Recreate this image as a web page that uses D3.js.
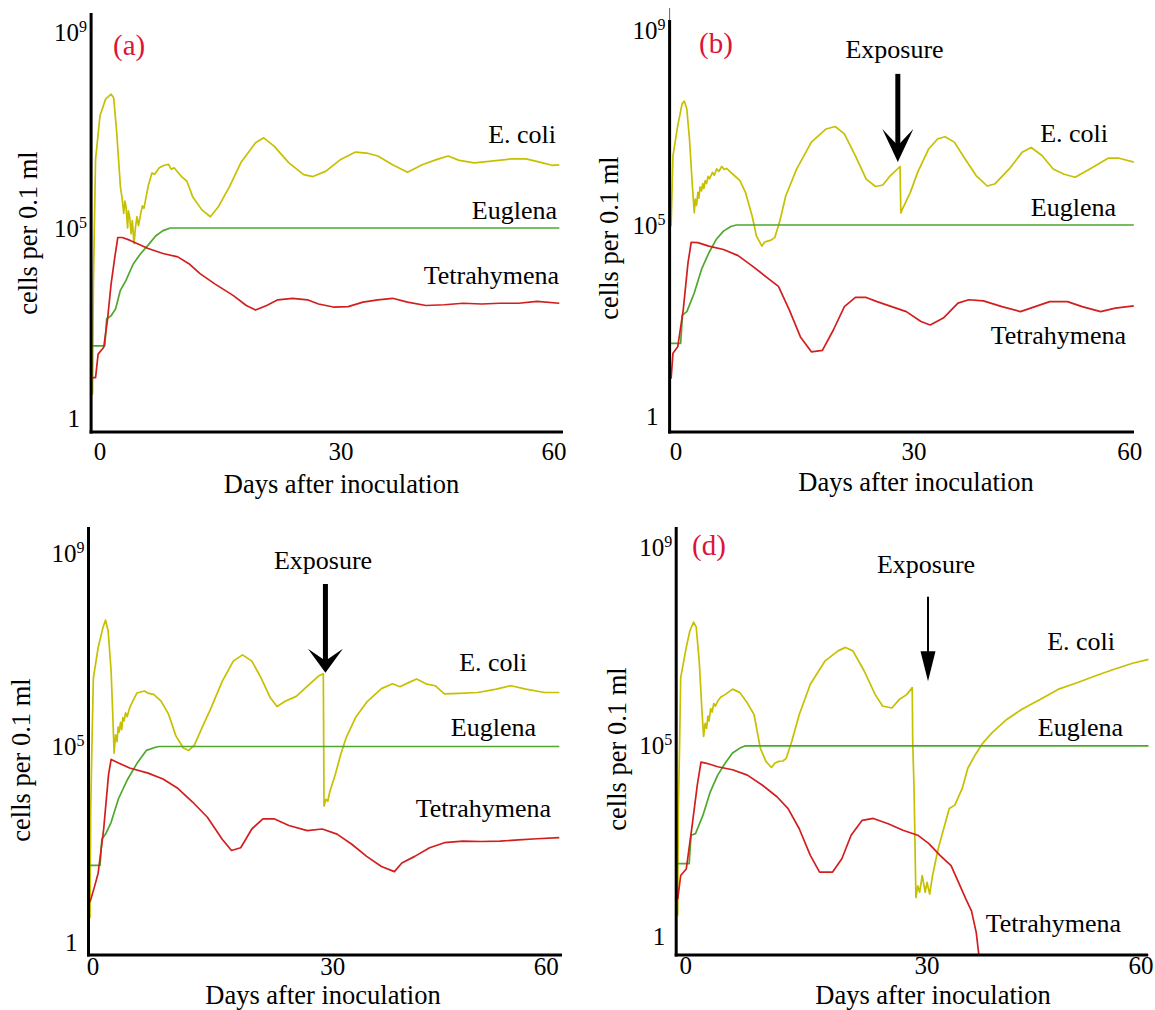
<!DOCTYPE html>
<html><head><meta charset="utf-8">
<script src="https://cdn.jsdelivr.net/npm/d3@7"></script>
<style>body{margin:0;background:#fff}svg{display:block}</style>
</head><body>
<svg id="chart" width="1155" height="1010"></svg>
<script>
// ---- DATA: [day, log10(cells per 0.1 ml)] ----
const xTicks = [0, 30, 60];
const yTicks = [0, 5, 9];               // log10 values -> "1", "10^5", "10^9"
const speciesNames = ["E. coli", "Euglena", "Tetrahymena"];
const panelLetters = ["(a)", "(b)", "", "(d)"];

const ecoliA = [[0,0.62],[0.1,3.53],[0.38,6.4],[0.95,7.29],[1.67,7.63],[2.38,7.73],[2.71,7.66],[3.1,6.95],[3.57,5.85],[3.8,5.6],[4.0,5.3],[4.15,5.55],[4.29,5.44],[4.5,5.0],[4.6,5.35],[4.76,5.23],[4.95,4.85],[5.1,5.15],[5.33,4.59],[5.5,5.0],[5.71,5.23],[5.9,5.05],[6.19,5.3],[6.4,5.45],[6.6,5.4],[7.14,5.85],[7.62,6.12],[8.0,6.1],[8.57,6.23],[9.2,6.28],[9.76,6.3],[10.1,6.2],[10.48,6.23],[11.43,6.05],[12.14,5.95],[12.86,5.64],[14.05,5.37],[15.14,5.23],[16.19,5.44],[17.62,5.85],[19.05,6.33],[20.95,6.74],[22.0,6.84],[23.33,6.67],[25.24,6.33],[27.14,6.09],[28.33,6.05],[30.0,6.16],[31.9,6.4],[33.8,6.55],[35.24,6.53],[36.67,6.47],[38.57,6.29],[40.48,6.14],[42.38,6.29],[44.29,6.4],[45.71,6.47],[47.14,6.38],[49.05,6.33],[50.95,6.36],[53.81,6.41],[55.71,6.41],[57.62,6.34],[59.05,6.28],[60,6.29]];
const euglenaA = [[0,1.9],[1.57,1.9],[1.81,2.61],[2.38,2.69],[2.95,2.87],[3.57,3.36],[4.29,3.62],[5.24,4.06],[6.19,4.33],[7.14,4.55],[8.1,4.79],[9.05,4.93],[10.0,5.0],[60,5.0]];
const tetraA = [[0,1.06],[0.38,1.06],[0.71,1.68],[1.43,1.86],[1.9,2.56],[2.38,3.53],[2.86,4.24],[3.24,4.75],[3.81,4.75],[4.76,4.68],[7.14,4.46],[9.05,4.33],[10.95,4.24],[12.38,4.06],[13.81,3.8],[15.71,3.53],[18.1,3.22],[19.76,2.96],[20.95,2.84],[22.38,2.96],[23.81,3.11],[25.71,3.15],[27.62,3.11],[29.05,3.0],[30.95,2.92],[32.86,2.93],[34.76,3.05],[36.67,3.11],[38.57,3.15],[40.48,3.05],[42.86,2.96],[45.24,2.98],[47.62,3.02],[50,3.0],[52.38,3.02],[54.76,3.02],[57.14,3.07],[60,3.02]];

const ecoliB = [[0,4.97],[0.24,6.42],[0.86,7.04],[1.43,7.49],[1.71,7.54],[2.04,7.38],[2.38,6.77],[2.76,5.8],[3.0,5.25],[3.14,5.53],[3.3,5.4],[3.47,5.67],[3.6,5.55],[3.75,5.78],[3.94,5.7],[4.1,5.85],[4.25,5.75],[4.42,5.91],[4.6,5.85],[4.8,6.0],[5.0,5.95],[5.37,6.08],[5.6,6.02],[5.9,6.15],[6.2,6.1],[6.56,6.2],[6.9,6.14],[7.2,6.16],[7.74,6.08],[8.3,6.0],[8.93,5.91],[9.64,5.67],[10.5,5.19],[11.07,4.71],[11.78,4.45],[12.1,4.55],[12.49,4.58],[12.9,4.6],[13.44,4.67],[14.16,5.12],[14.87,5.6],[16.29,6.15],[18.19,6.7],[20.1,6.97],[21.28,7.02],[22.47,6.87],[23.9,6.42],[25.3,5.94],[26.5,5.79],[27.46,5.82],[28.41,6.01],[29.69,6.2],[29.79,5.25],[29.98,5.32],[31.02,5.67],[31.97,6.08],[33.4,6.56],[34.58,6.77],[35.53,6.81],[36.72,6.7],[38.15,6.35],[39.57,6.01],[41.0,5.8],[41.95,5.84],[43.85,6.15],[45.51,6.49],[46.7,6.59],[48.12,6.42],[49.55,6.15],[50.97,6.04],[52.4,5.98],[54.3,6.15],[56.67,6.37],[58.1,6.37],[60,6.29]];
const euglenaB = [[0,1.91],[1.24,1.91],[1.47,2.65],[2.04,2.74],[2.99,3.22],[3.94,3.84],[4.89,4.27],[5.84,4.62],[6.79,4.84],[7.74,4.96],[8.46,5.0],[60,5.0]];
const tetraB = [[0,0.99],[0.24,1.65],[0.86,1.82],[1.57,2.78],[2.19,4.01],[2.61,4.55],[3.47,4.54],[4.89,4.45],[6.79,4.36],[8.69,4.2],[10.59,3.92],[12.49,3.62],[13.92,3.4],[15.34,2.78],[16.77,2.08],[18.19,1.69],[19.62,1.73],[21.04,2.26],[22.47,2.87],[23.9,3.11],[25.3,3.11],[26.7,3.0],[28.6,2.87],[30.5,2.74],[32.4,2.48],[33.6,2.39],[35.3,2.57],[37.2,2.96],[38.6,3.05],[40.5,3.02],[42.9,2.87],[45.3,2.74],[47.2,2.87],[49.1,3.0],[51.4,3.0],[53.3,2.87],[55.7,2.74],[57.6,2.83],[60,2.89]];

const ecoliC = [[0,0.61],[0.09,3.41],[0.24,4.96],[0.43,6.42],[1.04,7.05],[1.66,7.47],[1.99,7.62],[2.32,7.4],[2.7,6.56],[2.94,5.53],[3.08,4.83],[3.27,5.24],[3.45,5.1],[3.6,5.4],[3.74,5.3],[3.9,5.5],[4.05,5.35],[4.2,5.6],[4.36,5.53],[4.55,5.7],[4.75,5.62],[5.07,5.8],[5.5,5.95],[6.01,6.11],[6.96,6.15],[7.5,6.1],[8.14,6.08],[9.09,5.94],[10.04,5.67],[10.98,5.22],[11.93,4.96],[12.64,4.9],[13.35,5.03],[14.3,5.38],[15.48,5.8],[16.9,6.35],[18.32,6.77],[19.5,6.9],[20.69,6.77],[21.88,6.42],[23.06,6.01],[23.91,5.83],[24.95,5.94],[26.37,6.04],[27.79,6.25],[29.21,6.46],[29.83,6.51],[29.92,3.48],[30.16,3.65],[30.4,3.6],[30.64,3.83],[31.35,4.28],[32.06,4.8],[32.77,5.19],[33.95,5.6],[35.37,5.92],[37.26,6.2],[38.68,6.3],[39.63,6.24],[40.81,6.33],[41.76,6.4],[42.95,6.3],[44.13,6.26],[45.31,6.09],[47.2,6.1],[49.57,6.12],[51.94,6.19],[53.83,6.26],[55.73,6.19],[58.1,6.12],[60,6.12]];
const euglenaC = [[0,1.96],[1.28,1.96],[1.52,2.63],[1.99,2.76],[2.7,3.06],[3.65,3.67],[4.83,4.17],[6.01,4.57],[7.2,4.9],[8.38,4.98],[8.85,5.0],[60,5.0]];
const tetraC = [[0,1.02],[0.57,1.41],[1.04,1.76],[1.75,2.89],[2.37,4.28],[2.7,4.67],[3.65,4.58],[5.07,4.45],[7.43,4.32],[9.33,4.17],[11.22,3.93],[13.12,3.58],[15.01,3.19],[16.9,2.63],[18.09,2.34],[19.27,2.41],[20.69,2.89],[22.11,3.15],[23.53,3.15],[25.42,2.98],[27.79,2.85],[29.69,2.89],[31.58,2.76],[33.47,2.5],[35.37,2.19],[37.26,1.93],[38.92,1.8],[39.87,2.02],[41.52,2.19],[43.42,2.41],[45.31,2.54],[47.68,2.58],[50.05,2.57],[52.41,2.58],[54.78,2.61],[57.15,2.64],[60,2.67]];

const ecoliD = [[0,0.53],[0.09,3.44],[0.24,5.02],[0.38,6.37],[1.09,6.98],[1.56,7.32],[2.03,7.49],[2.36,7.39],[2.74,6.71],[3.07,5.76],[3.3,5.19],[3.5,5.45],[3.68,5.35],[3.85,5.6],[4.0,5.5],[4.2,5.75],[4.39,5.68],[4.6,5.85],[4.8,5.8],[5.1,5.9],[5.5,5.98],[6.04,6.03],[6.99,6.14],[7.93,6.07],[8.88,5.86],[9.73,5.63],[10.53,4.94],[11.24,4.59],[11.95,4.43],[12.4,4.55],[12.89,4.59],[13.4,4.6],[13.83,4.67],[14.54,5.09],[15.49,5.63],[16.9,6.24],[18.79,6.71],[20.44,6.91],[21.39,6.98],[22.33,6.91],[23.75,6.51],[25.17,6.03],[26.11,5.8],[27.29,5.76],[28.23,5.93],[29.18,6.03],[29.89,6.17],[29.95,5.09],[30.12,3.88],[30.36,1.01],[30.59,1.32],[30.83,1.15],[31.16,1.59],[31.54,1.15],[31.78,1.41],[32.11,1.1],[32.48,1.59],[33.19,2.29],[33.9,2.82],[34.61,3.35],[35.32,3.44],[36.26,3.88],[36.97,4.41],[37.91,4.76],[38.86,5.05],[40.04,5.26],[41.93,5.53],[43.81,5.73],[46.18,5.93],[48.54,6.14],[50.9,6.27],[53.26,6.41],[55.62,6.54],[57.98,6.66],[60,6.74]];
const euglenaD = [[0,1.9],[1.46,1.9],[1.7,2.65],[2.27,2.69],[3.21,3.17],[4.15,3.79],[5.1,4.23],[6.04,4.54],[6.99,4.81],[7.93,4.94],[8.64,5.0],[60,5.0]];
const tetraD = [[0,0.97],[0.38,1.59],[1.09,1.76],[1.79,2.82],[2.5,3.97],[2.97,4.57],[3.68,4.54],[5.1,4.45],[6.99,4.37],[8.88,4.23],[10.76,3.97],[12.65,3.66],[14.07,3.35],[15.49,2.82],[16.9,2.12],[18.08,1.68],[19.74,1.68],[20.92,2.03],[22.1,2.65],[23.51,3.04],[24.93,3.09],[26.82,2.95],[28.71,2.78],[30.59,2.65],[32.01,2.43],[33.43,2.12],[34.84,1.85],[35.79,1.41],[36.73,0.97],[37.44,0.66],[38.05,0.09],[38.38,-0.5],[60,-0.5]];

// exposure arrows per panel: day, log10 of shaft top, log10 of tip
const exposureDays = [null, 29.4, 30.1, 31.9];
const exposureArrowTop = [null, 8.1, 8.37, 8.0];
const exposureArrowTip = [null, 6.29, 6.53, 6.3];

const seriesByPanel = [
  [ecoliA, euglenaA, tetraA],
  [ecoliB, euglenaB, tetraB],
  [ecoliC, euglenaC, tetraC],
  [ecoliD, euglenaD, tetraD]
];

// ---- LAYOUT / STYLE ----
const colors = ["#c6c000", "#4ea82e", "#d21e1e"];
const FONT = '"Liberation Serif","Times New Roman",Times,serif';
const layouts = [
  {x0:92.6, x1:559.3, axisEnd:563, top:13, axisY:432, yR:[418,228,32], yTitle:[37,233], xTitle:[341.5,493], tickY:460, tickDx:[7.4,15,-5.3], letter:[113,55], species:[[556,142.5],[557,218.5],[559,283.5]]},
  {x0:671.1, x1:1133.8, axisEnd:1134, top:20, thinTop:8, axisY:432, yR:[416.6,225,30], yTitle:[618,238], xTitle:[916,491], tickY:460, tickDx:[5,11.5,-4], letter:[699,53], species:[[1108,141.5],[1116,216],[1126,343.5]], arrow:{head:[31,33], shaft:5, notch:0.5, label:[894.5,58.4]}},
  {x0:90, x1:559.3, axisEnd:562, top:527, axisY:955, yR:[942,746.5,553.6], yTitle:[30,760], xTitle:[323,1004], tickY:975, tickDx:[3,8,-13], letter:[0,0], species:[[527,671],[536,736.4],[551,817]], arrow:{head:[35,24], shaft:5, notch:0.5, label:[323,568.7]}},
  {x0:677.7, x1:1148.5, axisEnd:1148, top:527, axisY:955, yR:[936,745.8,547], yTitle:[626,749], xTitle:[933,1004], tickY:974, tickDx:[8,14,-7.5], letter:[692,555], species:[[1115,650],[1123,736.4],[1121,932]], arrow:{head:[15,30], shaft:2, notch:0, label:[926,573]}}
];

const svg = d3.select("#chart");

layouts.forEach((L, i) => {
  const g = svg.append("g");
  const x = d3.scaleLinear().domain([0, 60]).range([L.x0, L.x1]);
  const y = d3.scaleLinear().domain(yTicks).range(L.yR);
  const line = d3.line().x(d => x(d[0])).y(d => y(d[1]));

  // series lines
  seriesByPanel[i].forEach((s, k) => {
    g.append("path").attr("d", line(s))
      .attr("fill", "none").attr("stroke", colors[k])
      .attr("stroke-width", 1.7).attr("stroke-linejoin", "round");
  });

  // axes
  if (L.thinTop) {
    g.append("line").attr("x1", L.x0 - 1.5).attr("x2", L.x0 - 1.5)
      .attr("y1", L.thinTop).attr("y2", L.top).attr("stroke", "#666").attr("stroke-width", 1);
  }
  g.append("line").attr("x1", L.x0 - 1.5).attr("x2", L.x0 - 1.5)
    .attr("y1", L.top).attr("y2", L.axisY + 1.5).attr("stroke", "#000").attr("stroke-width", 3);
  g.append("line").attr("x1", L.x0 - 3).attr("x2", L.axisEnd)
    .attr("y1", L.axisY).attr("y2", L.axisY).attr("stroke", "#000").attr("stroke-width", 3);

  // x tick labels
  xTicks.forEach((t, j) => {
    g.append("text").attr("x", x(t) + L.tickDx[j]).attr("y", L.tickY)
      .attr("text-anchor", "middle").attr("font-family", FONT).attr("font-size", 25)
      .attr("fill", "#000").text(t);
  });

  // y tick labels
  yTicks.forEach(v => {
    const ty = y(v) + 8.5;
    if (v === 0) {
      g.append("text").attr("x", L.x0 - 12.5).attr("y", ty).attr("text-anchor", "end")
        .attr("font-family", FONT).attr("font-size", 25).text("1");
    } else {
      const t = g.append("text").attr("x", L.x0 - 5.5).attr("y", ty).attr("text-anchor", "end")
        .attr("font-family", FONT).attr("font-size", 25);
      t.append("tspan").text("10");
      t.append("tspan").attr("dy", -9).attr("font-size", 16).text(v);
    }
  });

  // axis titles
  g.append("text").attr("transform", `translate(${L.yTitle[0]},${L.yTitle[1]}) rotate(-90)`)
    .attr("text-anchor", "middle").attr("font-family", FONT).attr("font-size", 26.5)
    .text("cells per 0.1 ml");
  g.append("text").attr("x", L.xTitle[0]).attr("y", L.xTitle[1])
    .attr("text-anchor", "middle").attr("font-family", FONT).attr("font-size", 26.5)
    .text("Days after inoculation");

  // panel letter
  if (panelLetters[i]) {
    g.append("text").attr("x", L.letter[0]).attr("y", L.letter[1])
      .attr("font-family", FONT).attr("font-size", 29).attr("fill", "#dc1439")
      .text(panelLetters[i]);
  }

  // species labels
  speciesNames.forEach((name, k) => {
    g.append("text").attr("x", L.species[k][0]).attr("y", L.species[k][1])
      .attr("text-anchor", "end").attr("font-family", FONT).attr("font-size", 26)
      .text(name);
  });

  // exposure arrow
  if (exposureDays[i] !== null) {
    const A = L.arrow;
    const ax = x(exposureDays[i]);
    const yTop = y(exposureArrowTop[i]);
    const yTip = y(exposureArrowTip[i]);
    const [w, len] = A.head;
    const back = yTip - len;
    const notchY = A.notch ? yTip - len * A.notch : back;
    g.append("line").attr("x1", ax).attr("x2", ax).attr("y1", yTop).attr("y2", notchY + 1)
      .attr("stroke", "#000").attr("stroke-width", A.shaft);
    g.append("path")
      .attr("d", `M${ax},${yTip} L${ax - w / 2},${back} L${ax},${notchY} L${ax + w / 2},${back} Z`)
      .attr("fill", "#000");
    g.append("text").attr("x", A.label[0]).attr("y", A.label[1])
      .attr("text-anchor", "middle").attr("font-family", FONT).attr("font-size", 26)
      .text("Exposure");
  }
});
</script>
</body></html>
